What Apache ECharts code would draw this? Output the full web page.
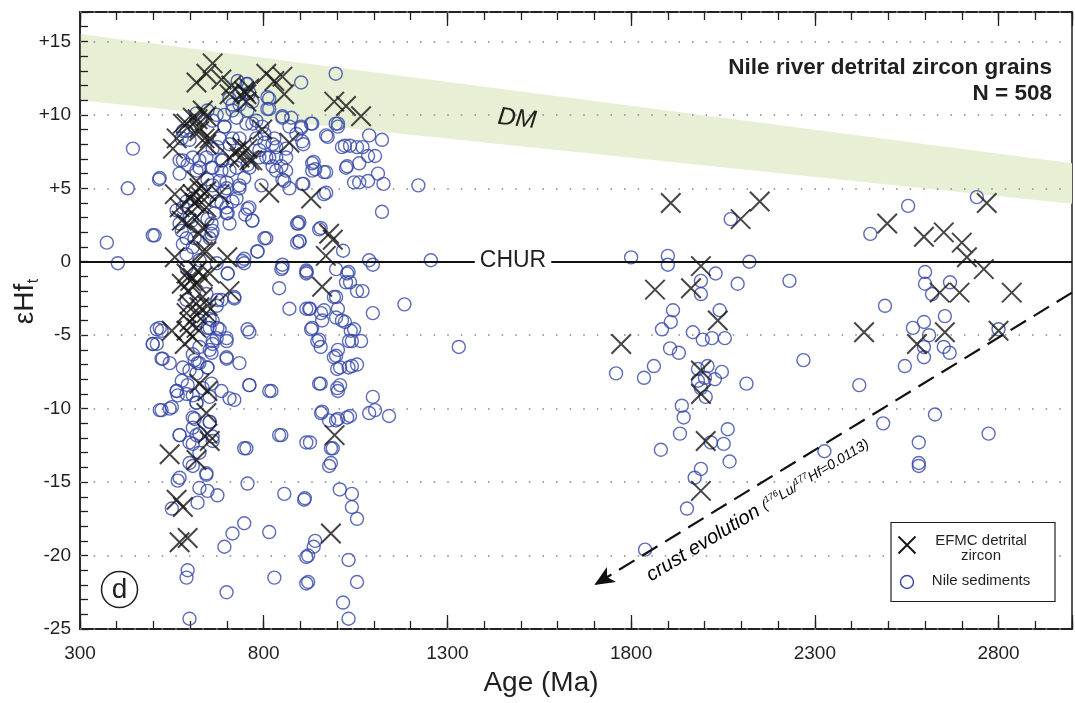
<!DOCTYPE html>
<html><head><meta charset="utf-8">
<script src="https://cdn.jsdelivr.net/npm/echarts@6/dist/echarts.min.js"></script>
<style>html,body{margin:0;padding:0;background:#fff}#c{width:1075px;height:703px}</style>
</head><body><div id="c"></div>
<script>
// ---------------- DATA ----------------
const xTicks = [300, 800, 1300, 1800, 2300, 2800];
const yTicks = [-25, -20, -15, -10, -5, 0, 5, 10, 15];
// DM (depleted mantle) band: age, upper and lower eHf
const dmAge = [300, 3000];
const dmTop = [15.5, 6.7];
const dmBottom = [11.0, 3.95];
// crust evolution trend (176Lu/177Hf = 0.0113): from, to
const crustLine = [[3000, -2.1], [1700, -22.0]];
// EFMC detrital zircon [age Ma, eHf(t)]
const efmc = [
[661,13.5],[617,12.2],[644,12.8],[685,12.4],[712,12.0],[747,11.6],[753,10.9],[807,12.8],[829,12.3],[851,12.6],[856,11.4],[707,11.4],[753,11.4],[761,11.8],[796,9.0],[870,8.1],[992,10.9],[1024,10.6],[1065,9.9],
[620,9.7],[644,9.9],[634,10.3],[607,9.8],[590,9.4],[580,9.4],[563,8.4],[553,7.7],[625,9.1],[625,8.9],[639,8.4],[644,8.0],[653,8.4],[726,7.5],[734,7.1],[756,7.7],[742,7.8],[769,6.9],[707,7.1],[761,6.9],
[815,4.7],[929,4.3],[617,5.5],[625,5.0],[607,4.6],[644,4.8],[558,4.6],[571,3.7],[625,3.9],[644,3.7],[617,3.0],[577,2.8],[634,2.3],[680,4.6],[625,1.9],[634,0.7],[590,2.6],[612,4.0],[600,4.3],[630,4.4],
[988,1.5],[978,1.9],[969,0.4],[558,0.3],[644,0.7],[701,0.3],
[590,-0.8],[607,-1.1],[634,-1.0],[653,-0.8],[577,-1.5],[617,-1.5],[593,-2.0],[707,-2.0],[959,-1.7],[634,-2.4],[598,-2.9],[625,-3.1],[647,-3.0],[590,-3.5],[617,-3.6],[644,-3.5],[598,-4.1],[617,-4.5],[550,-4.7],[590,-4.7],[607,-5.1],[585,-5.6],[600,-1.3],[620,-0.6],
[625,-8.3],[647,-8.8],[644,-10.3],[647,-11.7],[653,-12.2],[544,-13.1],[617,-13.5],[993,-11.8],[563,-16.2],[580,-16.7],[571,-19.1],[593,-18.8],[983,-18.5],
[1908,4.0],[2150,4.1],[2098,2.9],[1773,-5.6],[1865,-1.9],[1963,-1.8],[1990,-0.3],[2036,-4.0],[1990,-7.4],[1990,-9.0],[2003,-12.2],[1990,-15.6],
[2497,2.6],[2597,1.7],[2651,2.0],[2768,4.0],[2700,1.3],[2714,0.3],[2760,-0.5],[2640,-2.1],[2694,-2.1],[2836,-2.1],[2434,-4.8],[2578,-5.6],[2654,-4.8],[2800,-4.7]
];
// Nile sediments [age Ma, eHf(t)]
const nile = [
[444,7.7],[430,5.0],[515,5.6],[996,12.8],[902,12.2],[815,11.1],[815,10.4],[851,9.9],[875,9.8],[902,9.1],[929,9.4],[905,8.2],[908,8.0],[970,8.6],[996,9.4],[1002,9.2],[1013,7.8],[1021,7.9],[1054,7.8],[932,6.7],[932,6.2],[964,6.1],[1024,6.4],[1046,5.4],[964,4.6],[905,5.3],[856,5.5],[870,5.0],[794,5.2],[734,5.0],[756,3.6],[769,2.8],[750,3.2],[715,4.1],[699,3.3],[897,2.7],[951,2.2],[807,1.6],[897,1.4],[498,1.8],[373,1.3],[403,-0.1],
[753,12.1],[734,11.4],[761,11.5],[810,11.2],[810,10.4],[769,10.9],[715,10.7],[693,10.0],[672,10.0],[726,9.8],[753,9.4],[780,9.6],[796,9.2],[851,9.8],[870,9.2],[902,9.2],[889,8.7],[829,8.4],[802,8.1],[834,7.8],[861,7.1],[815,7.1],[788,7.1],[848,6.5],[824,6.5],[851,5.6],[761,6.4],[747,5.7],[734,5.2],[699,5.4],[685,6.2],[726,4.3],[761,3.7],[769,2.8],[699,3.7],[702,3.3],[685,4.0],[666,3.3],[658,2.6],[788,7.6],[693,9.2],[715,8.4],[674,7.8],[685,6.9],[658,6.4],[647,5.6],[693,4.8],[598,8.3],[580,6.9],[571,6.0],[517,5.7],[580,8.9],[607,7.1],[625,6.4],[607,4.3],[580,3.7],[598,3.0],[577,2.1],[612,1.6],[658,1.9],[580,1.2],[607,1.0],[503,1.8],[747,0.2],[747,-0.1],[702,-0.8],[720,-2.4],[685,-2.6],[672,-3.0],[653,-3.9],[674,-4.5],[699,-5.2],[661,-5.6],[647,-4.5],[517,-4.5],[509,-5.6],[848,-0.5],[851,-0.2],[842,-1.8],[870,-3.2],[916,-0.6],[916,-3.2],[761,-4.8],[891,2.6],[891,1.3],[802,1.6],[783,0.7],
[522,-4.7],[498,-5.6],[522,-6.6],[544,-6.9],[580,-7.2],[620,-6.9],[647,-7.2],[658,-6.2],[699,-5.4],[699,-6.5],[734,-6.9],[672,-5.2],[607,-6.3],[563,-8.8],[566,-9.1],[593,-8.4],[607,-9.1],[617,-9.6],[658,-8.3],[685,-8.8],[707,-9.3],[720,-9.4],[761,-8.4],[815,-8.8],[522,-10.1],[544,-10.0],[612,-10.7],[653,-10.9],[571,-11.8],[607,-12.4],[617,-11.8],[661,-11.9],[747,-12.7],[842,-11.8],[916,-12.3],[607,-13.9],[644,-14.5],[566,-14.9],[625,-15.4],[647,-15.6],[674,-15.9],[620,-16.4],[550,-16.8],[756,-15.1],[856,-15.8],[910,-16.2],[747,-17.8],[715,-18.5],[693,-19.4],[815,-18.4],[916,-20.1],[593,-21.0],[590,-21.5],[699,-22.5],[829,-21.5],[916,-21.9],[598,-24.3],
[932,9.4],[1002,9.4],[974,8.5],[1035,7.9],[1069,7.8],[1087,8.6],[1122,8.3],[936,6.8],[940,6.3],[970,6.1],[1027,6.5],[1060,6.7],[1084,7.2],[1103,7.2],[1111,6.0],[1060,5.4],[1084,5.5],[1126,5.3],[908,5.3],[970,4.7],[1221,5.2],[1122,3.4],[894,2.6],[955,2.3],[898,1.4],[1016,0.75],[1087,0.1],[1097,-0.2],[917,-0.7],[997,-0.5],[1031,-0.7],[1035,-1.4],[1069,-2.0],[997,-2.4],[1002,-3.2],[964,-3.3],[926,-3.2],[959,-4.0],[997,-3.8],[1021,-4.1],[1097,-3.5],[1183,-2.9],[932,-4.5],[1046,-4.6],[951,-5.3],[955,-5.8],[1040,-5.4],[1065,-5.4],[1002,-6.0],[997,-6.4],[1008,-7.2],[1031,-7.2],[1054,-7.0],[955,-8.3],[1008,-8.4],[1002,-8.8],[1097,-9.2],[1103,-10.1],[1087,-10.3],[1141,-10.5],[959,-10.2],[978,-10.8],[1002,-10.7],[1035,-10.5],[926,-12.3],[988,-12.7],[983,-13.7],[912,-16.1],[1007,-15.5],[1040,-15.8],[1040,-16.7],[1054,-17.5],[940,-19.0],[936,-19.4],[921,-20.0],[1031,-20.3],[921,-21.8],[1054,-21.8],[1016,-23.2],[1031,-24.3],
[742,0.05],[783,0.7],[851,-0.4],[916,-0.8],[1027,-0.8],[1024,-1.4],[1054,-2.0],[702,-0.8],[720,-2.5],[924,-3.2],[956,-3.5],[991,-2.4],[1013,-4.0],[1037,-4.7],[1032,-5.4],[929,-4.6],[946,-5.4],[991,-6.5],[1000,-7.3],[1040,-7.1],[699,-6.6],[680,-4.6],[661,-4.0],[674,-2.6],[756,-4.6],[761,-8.4],[821,-8.8],[951,-8.3],[1000,-8.6],[956,-10.3],[997,-10.8],[1027,-10.6],[848,-11.8],[983,-12.7],[978,-13.9],[753,-12.7],[509,-4.6],[498,-5.6],[525,-6.6],[517,-10.1],[550,-9.9],[563,-8.8],[571,-11.8],
[617,10.1],[647,10.3],[661,9.6],[693,9.2],[715,10.3],[734,10.7],[729,12.3],[756,12.1],[707,11.1],[756,10.3],[769,9.4],[802,8.7],[780,8.4],[734,8.4],[707,8.0],[680,8.4],[661,7.7],[688,6.9],[644,7.1],[625,6.9],[590,8.9],[577,8.4],[571,6.9],[593,6.6],[617,6.2],[661,6.4],[707,6.2],[726,6.4],[756,6.6],[807,7.1],[834,7.1],[824,8.0],[861,7.7],[834,6.2],[861,6.2],[680,5.5],[661,5.2],[699,5.0],[672,4.1],[590,4.1],[563,3.5],[571,2.6],[604,2.8],[647,2.9],[661,2.1],[707,2.6],[653,1.6],[590,1.6],
[590,0.5],[625,0.1],[672,-0.1],[590,-0.4],[644,-2.2],[590,-2.6],[625,-4.0],[653,-4.5],[661,-5.4],[653,-6.0],[625,-5.8],[612,-6.7],[598,-7.4],[625,-6.9],[647,-7.2],[617,-7.6],[577,-8.1],[634,-8.6],[653,-9.2],[590,-9.0],[617,-9.6],[607,-10.6],[653,-10.9],[607,-11.3],[625,-11.7],[661,-12.2],[598,-12.3],[625,-13.0],[598,-13.7],[571,-14.7],[644,-14.4],
[1255,0.1],[1331,-5.8],[1800,0.3],[1900,0.4],[1900,-0.2],[2030,-0.8],[2090,-1.5],[2122,0.0],[1990,-1.3],[1990,-2.2],[1914,-3.3],[1908,-4.1],[1884,-4.6],[1968,-4.8],[1995,-5.3],[2020,-5.2],[2055,-5.2],[2041,-3.3],[1906,-5.9],[1930,-6.2],[1862,-7.1],[1759,-7.6],[1835,-7.9],[1982,-7.3],[2008,-7.1],[2047,-7.5],[1982,-8.1],[2001,-7.9],[2028,-8.0],[1990,-8.6],[2003,-9.2],[2114,-8.3],[1938,-9.8],[1943,-10.6],[1933,-11.7],[1881,-12.8],[2017,-12.3],[2052,-12.4],[2063,-11.4],[2068,-13.6],[1990,-14.1],[1973,-14.7],[1952,-16.8],[1838,-19.6],
[2231,-1.3],[2491,-3.0],[2269,-6.7],[2421,-8.4],[2600,-0.7],[2600,-1.5],[2619,-2.2],[2668,-1.4],[2654,-3.7],[2567,-4.5],[2597,-4.1],[2611,-5.0],[2597,-5.8],[2651,-5.8],[2667,-6.2],[2545,-7.1],[2597,-6.5],[2800,-4.6],[2627,-10.4],[2773,-11.7],[2486,-11.0],[2583,-12.3],[2583,-13.7],[2583,-13.9],[2326,-12.9],[2451,1.9],[2554,3.8],[2741,4.4],[2071,2.9]
];

// ---------------- CHART ----------------
const FONT = "'Liberation Sans', Arial, Helvetica, sans-serif";
const INK = '#231f20';
const BLUE = '#3447a8';
const chart = echarts.init(document.getElementById('c'), null, {renderer: 'canvas'});

function xAxisDef(pos, interval, len, labels) {
  return {
    type: 'value', position: pos, min: 300, max: 3000, interval: interval,
    axisLine: {show: true, onZero: false, lineStyle: {color: INK, width: 1.5}},
    axisTick: {show: true, inside: true, length: len, lineStyle: {color: INK, width: 1.3}},
    axisLabel: labels ? {show: true, margin: 15, fontSize: 19, fontFamily: FONT, color: INK,
      formatter: v => (xTicks.indexOf(v) >= 0 ? String(v) : '')} : {show: false},
    splitLine: {show: false}
  };
}

const option = {
  animation: false,
  backgroundColor: '#fff',
  grid: {left: 80, top: 12, right: 2, bottom: 74, show: true, borderColor: INK, borderWidth: 1.5, backgroundColor: 'transparent'},
  xAxis: [
    xAxisDef('bottom', 100, 8, true),
    xAxisDef('bottom', 500, 14, false),
    xAxisDef('top', 100, 8, false),
    xAxisDef('top', 500, 14, false)
  ],
  yAxis: [
    {type: 'value', position: 'left', min: -25, max: 17, interval: 1,
     axisLine: {show: true, onZero: false, lineStyle: {color: INK, width: 1.5}},
     axisTick: {show: true, inside: true, length: 8, lineStyle: {color: INK, width: 1.3}},
     axisLabel: {show: true, margin: 9, fontSize: 19, fontFamily: FONT, color: INK,
       formatter: v => (yTicks.indexOf(v) >= 0 ? (v > 0 ? '+' + v : String(v)) : '')},
     splitLine: {show: false}},
    {type: 'value', position: 'left', min: -25, max: 17, interval: 5, z: 1,
     axisLine: {show: false, onZero: false}, axisTick: {show: false}, axisLabel: {show: false},
     splitLine: {show: true, lineStyle: {color: '#8c8c8c', width: 1.6, type: [1.6, 12]}}}
  ],
  series: [
    {type: 'custom', name: 'DM', z: 0, silent: true, clip: true,
     data: [[dmAge[0], dmTop[0]]],
     renderItem: (params, api) => {
       const pts = [];
       for (let i = 0; i < dmAge.length; i++) pts.push(api.coord([dmAge[i], dmTop[i]]));
       for (let i = dmAge.length - 1; i >= 0; i--) pts.push(api.coord([dmAge[i], dmBottom[i]]));
       return {type: 'polygon', shape: {points: pts}, style: {fill: '#e7efd4', stroke: null}};
     }},
    {type: 'scatter', name: 'Nile sediments', data: nile, symbol: 'circle', symbolSize: 13, z: 2,
     itemStyle: {color: 'rgba(255,255,255,0)', borderColor: BLUE, borderWidth: 1.4},
     markLine: {silent: true, symbol: ['none', 'none'], label: {show: false},
       lineStyle: {type: 'solid', color: '#111', width: 1.8},
       data: [{yAxis: 0}]}},
    {type: 'scatter', name: 'EFMC detrital zircon', data: efmc, symbol: 'path://M0,0L20,20M20,0L0,20',
     symbolSize: 19.5, z: 3,
     itemStyle: {color: 'none', borderColor: '#161616', borderWidth: 2},
     markLine: {silent: true, symbol: ['none', 'arrow'], symbolSize: [13, 20], label: {show: false},
       lineStyle: {type: [18, 9], color: '#111', width: 2.2},
       data: [[{coord: crustLine[0]}, {coord: crustLine[1]}]]}}
  ],
  graphic: {elements: [
    {type: 'text', z: 100, x: 513, y: 261, style: {text: 'CHUR', font: '23px ' + FONT, fill: INK,
      textAlign: 'center', textVerticalAlign: 'middle', backgroundColor: '#fff', padding: [2, 5]}},
    {type: 'text', z: 100, x: 517, y: 119, rotation: -0.11, style: {text: 'DM', font: 'italic 25px ' + FONT, fill: INK,
      textAlign: 'center', textVerticalAlign: 'middle'}},
    {type: 'text', z: 100, x: 1052, y: 68, style: {text: 'Nile river detrital zircon grains', font: 'bold 22.5px ' + FONT, fill: INK,
      textAlign: 'right', textVerticalAlign: 'middle'}},
    {type: 'text', z: 100, x: 1052, y: 94, style: {text: 'N = 508', font: 'bold 22.5px ' + FONT, fill: INK,
      textAlign: 'right', textVerticalAlign: 'middle'}},
    {type: 'text', z: 100, x: 541, y: 683, style: {text: 'Age (Ma)', font: '28px ' + FONT, fill: INK,
      textAlign: 'center', textVerticalAlign: 'middle'}},
    {type: 'text', z: 100, x: 25, y: 304, rotation: Math.PI / 2, style: {text: 'εHf', font: '28px ' + FONT, fill: INK,
      textAlign: 'center', textVerticalAlign: 'middle'}},
    {type: 'text', z: 100, x: 34, y: 281, rotation: Math.PI / 2, style: {text: 't', font: '16px ' + FONT, fill: INK,
      textAlign: 'center', textVerticalAlign: 'middle'}},
    {type: 'text', z: 100, x: 758, y: 510, rotation: 0.547, style: {
      text: '{a|crust evolution }{b|(}{s|176}{b|Lu/}{s|177}{b|Hf=0.0113)}',
      rich: {
        a: {fontSize: 20, fontStyle: 'italic', fontFamily: FONT, color: INK},
        b: {fontSize: 14, fontStyle: 'italic', fontFamily: FONT, color: INK},
        s: {fontSize: 9, fontStyle: 'italic', fontFamily: FONT, color: INK, padding: [0, 0, 9, 0]}
      },
      textAlign: 'center', textVerticalAlign: 'middle'}},
    {type: 'circle', z: 100, shape: {cx: 119.5, cy: 589.5, r: 18}, style: {fill: '#fff', stroke: INK, lineWidth: 1.5}},
    {type: 'text', z: 101, x: 119.5, y: 590, style: {text: 'd', font: '28px ' + FONT, fill: INK,
      textAlign: 'center', textVerticalAlign: 'middle'}},
    {type: 'rect', z: 100, shape: {x: 891, y: 522.5, width: 164, height: 79}, style: {fill: '#fff', stroke: INK, lineWidth: 1.2}},
    {type: 'line', z: 101, shape: {x1: 898.5, y1: 536.5, x2: 915.5, y2: 553.5}, style: {stroke: '#161616', lineWidth: 2}},
    {type: 'line', z: 101, shape: {x1: 915.5, y1: 536.5, x2: 898.5, y2: 553.5}, style: {stroke: '#161616', lineWidth: 2}},
    {type: 'circle', z: 101, shape: {cx: 907, cy: 582, r: 6.5}, style: {fill: 'none', stroke: BLUE, lineWidth: 1.4}},
    {type: 'text', z: 101, x: 981, y: 541, style: {text: 'EFMC detrital', font: '15px ' + FONT, fill: INK,
      textAlign: 'center', textVerticalAlign: 'middle'}},
    {type: 'text', z: 101, x: 981, y: 556, style: {text: 'zircon', font: '15px ' + FONT, fill: INK,
      textAlign: 'center', textVerticalAlign: 'middle'}},
    {type: 'text', z: 101, x: 981, y: 581, style: {text: 'Nile sediments', font: '15px ' + FONT, fill: INK,
      textAlign: 'center', textVerticalAlign: 'middle'}}
  ]}
};
chart.setOption(option);
</script>
</body></html>
